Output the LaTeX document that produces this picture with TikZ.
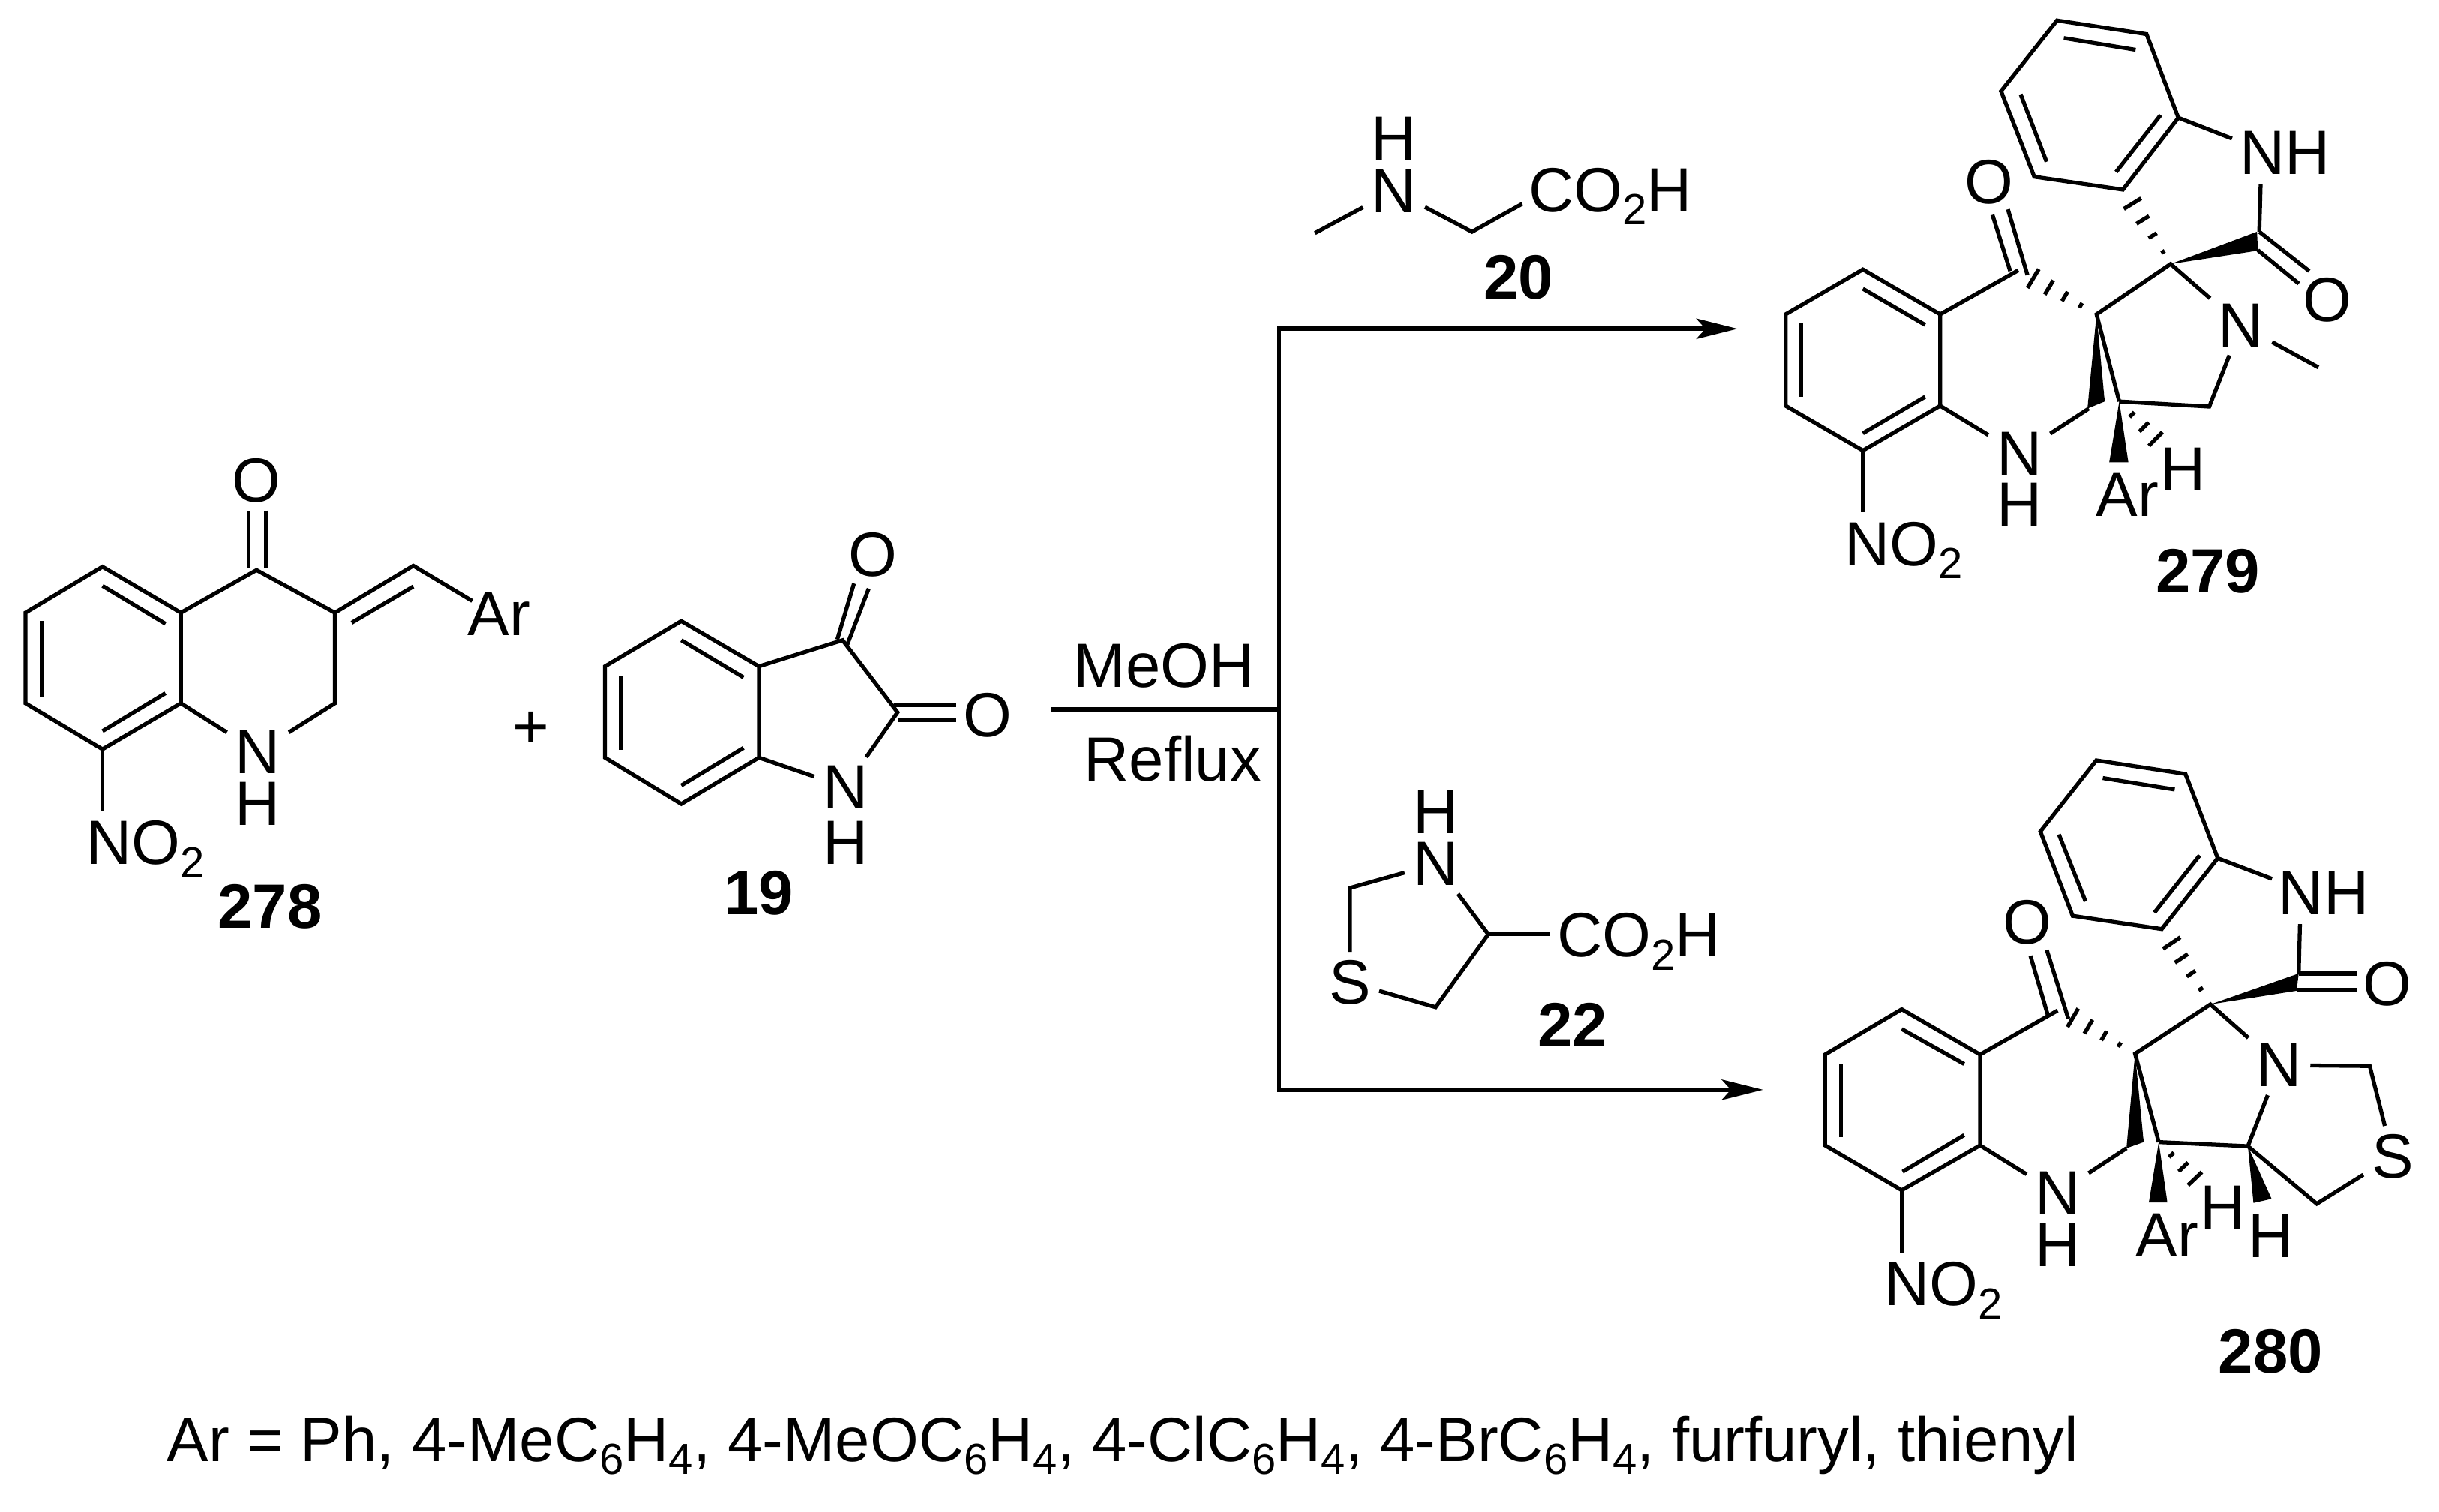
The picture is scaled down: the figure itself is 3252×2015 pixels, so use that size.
\documentclass[tikz,border=0pt]{standalone}
\usepackage{fontspec}
\setmainfont{Liberation Sans}
\usetikzlibrary{calc,arrows.meta}
\newcommand\sbs[1]{\raisebox{-5pt}{\fontsize{16.5}{17}\selectfont #1}}
\newcommand\seg[3]{\coordinate (#1s) at (#2); \coordinate (#1e) at (#3); \draw[bond] (#1s) -- (#1e);}
\newcommand\wdg[3]{\fill[black] (#1) -- (#2) -- (#3) -- cycle;}
\newcommand\hsh[4]{\foreach \t in {#4} {\draw[hashln] ($(#1)!\t!(#2)$) -- ($(#1)!\t!(#3)$);}}
\tikzset{
  bond/.style={line width=1.5pt,line join=miter,line cap=butt},
  hashln/.style={line width=1.5pt},
  rxn/.style={line width=1.7pt},
  head/.style={-{Stealth[length=0.55cm,width=0.27cm,inset=0.12cm]}},
  atom/.style={inner sep=3pt,font=\fontsize{23.7}{27}\selectfont},
  txt/.style={inner sep=0pt,font=\fontsize{23.7}{27}\selectfont},
  cpd/.style={inner sep=0pt,font=\fontsize{23.7}{27}\selectfont\bfseries},
  z1/.style={shift={(2300,0)},x=0.00606cm,y=-0.00523cm,name prefix=P-},
  z2/.style={shift={(2350,980)},x=0.00574cm,y=-0.005485cm,name prefix=Q-},
  z3/.style={shift={(0,580)},x=0.00893cm,y=-0.004464cm,name prefix=L-},
  z4/.style={shift={(1380,120)},x=0.006378cm,y=-0.008673cm,name prefix=M-},
}
\begin{document}
\begin{tikzpicture}[x=0.01cm,y=-0.01cm]
\useasboundingbox (0,0) rectangle (3252,2015);
% ---------- 278 and 19
\begin{scope}[z3]
\coordinate (p1) at (153,393); \coordinate (p2) at (270,530); \coordinate (p3) at (270,800);
\coordinate (p4) at (153,937); \coordinate (p5) at (38,800); \coordinate (p6) at (38,530);
\draw[bond] (p1)--(p2)--(p3)--(p4)--(p5)--(p6)--cycle;
\seg{i1}{153,450}{247,563} \seg{i2}{62,555}{62,780} \seg{i3}{247,770}{153,883}
\coordinate (c4) at (383,403); \coordinate (c3) at (500,530); \coordinate (ch) at (617,390);
\coordinate (c2) at (500,800); \coordinate (arb) at (705,495); \coordinate (nob) at (153,1122);
\node[atom] (O) at (383,135) {O};
\node[atom] (N) at (385,945) {N};
\node[atom] (H) at (385,1100) {H};
\node[txt] (Ar) at (745,535) {Ar};
\node[txt,anchor=base west] (NO) at (128,1280) {NO\sbs{2}};
\node[cpd] (n278) at (403,1405) {278};
\draw[bond] (p2)--(c4)--(c3)--(ch)--(arb);
\draw[bond] (c3)--(c2)--(N)--(p3);
\draw[bond] (p4)--(nob);
\seg{i4}{525,560}{617,452}
\seg{d1}{371,225}{371,397} \seg{d2}{397,225}{397,397}
\node[txt] (plus) at (793,880) {+};
\coordinate (q1) at (1017,555); \coordinate (q2) at (1133,690); \coordinate (q3) at (1133,962);
\coordinate (q4) at (1017,1100); \coordinate (q5) at (903,962); \coordinate (q6) at (903,690);
\draw[bond] (q1)--(q2)--(q3)--(q4)--(q5)--(q6)--cycle;
\seg{j1}{1017,612}{1110,723} \seg{j2}{927,720}{927,940} \seg{j3}{1110,933}{1017,1045}
\coordinate (k3) at (1258,612); \coordinate (k2) at (1340,827);
\node[atom] (Oa) at (1303,358) {O};
\node[atom] (Ob) at (1475,835) {O};
\node[atom] (Nb) at (1262,1050) {N};
\node[atom] (Hb) at (1262,1215) {H};
\node[cpd] (n19) at (1133,1365) {19};
\draw[bond] (q2)--(k3)--(k2)--(Nb)--(q3);
\seg{e1}{1250,610}{1275,443} \seg{e2}{1265,625}{1297,458}
\seg{e3}{1335,805}{1428,805} \seg{e4}{1340,850}{1428,850}
\end{scope}
% ---------- reaction lines and reagents
\begin{scope}[z4]
\coordinate (s) at (33,953); \coordinate (j) at (510,953);
\coordinate (t) at (510,367); \coordinate (b) at (510,1537);
\coordinate (ta) at (1468,367); \coordinate (ba) at (1521,1537);
\draw[rxn] (s)--(j);
\draw[rxn,head] (j)--(t)--(ta);
\draw[rxn,head] (j)--(b)--(ba);
\node[txt] (meoh) at (270,885) {MeOH};
\node[txt] (refl) at (288,1028) {Reflux};
\node[atom] (Ha) at (750,75) {H};
\node[atom] (Na) at (750,155) {N};
\coordinate (me) at (585,220); \coordinate (ca) at (913,218); \coordinate (cb) at (1018,175);
\node[txt,anchor=base west] (coa) at (1031,187) {CO\sbs{2}H};
\node[cpd] (n20) at (1010,288) {20};
\draw[bond] (me)--(Na)--(ca)--(cb);
\node[atom] (Hc) at (837,1110) {H};
\node[atom] (Nc) at (837,1190) {N};
\node[atom] (Sc) at (658,1372) {S};
\coordinate (c5) at (658,1227); \coordinate (c4) at (837,1410); \coordinate (c3) at (947,1298);
\coordinate (cc) at (1075,1298);
\node[txt,anchor=base west] (cob) at (1090,1333) {CO\sbs{2}H};
\node[cpd] (n22) at (1123,1437) {22};
\draw[bond] (Nc)--(c5)--(Sc)--(c4)--(c3)--(Nc);
\draw[bond] (c3)--(cc);
\end{scope}
% ---------- 279
\begin{scope}[z1]
\coordinate (a1) at (303,686); \coordinate (a2) at (473,800); \coordinate (a3) at (473,1033);
\coordinate (a4) at (303,1147); \coordinate (a5) at (133,1033); \coordinate (a6) at (133,800);
\draw[bond] (a1)--(a2)--(a3)--(a4)--(a5)--(a6)--cycle;
\seg{i1}{303,735}{440,827} \seg{i2}{168,822}{168,1010} \seg{i3}{440,1010}{303,1103}
\coordinate (co) at (645,688); \coordinate (c3) at (817,800); \coordinate (c2) at (980,672);
\coordinate (c4) at (867,1022); \coordinate (c5) at (1065,1035); \coordinate (ch) at (800,1040);
\coordinate (c1) at (1175,590); \coordinate (me) at (1305,935); \coordinate (nob) at (303,1305);
\coordinate (nhb) at (1178,468); \coordinate (nhc) at (1115,353);
\node[atom] (O1) at (580,463) {O};
\node[atom] (O2) at (1325,763) {O};
\node[atom] (N1) at (647,1155) {N};
\node[atom] (H1) at (647,1285) {H};
\node[atom] (N2) at (1135,828) {N};
\node[atom] (H2) at (1008,1195) {H};
\node[txt] (Ar) at (885,1260) {Ar};
\node[txt,anchor=base west] (NO) at (262,1440) {NO\sbs{2}};
\node[txt] (NH) at (1232,390) {NH};
\node[cpd] (n279) at (1062,1455) {279};
\draw[bond] (a2)--(co);
\seg{d1}{588,547}{627,690} \seg{d2}{622,533}{665,700}
\draw[bond] (a3)--(N1)--(ch);
\draw[bond] (a4)--(nob);
\draw[bond] (c4)--(c3)--(c2)--(N2)--(c5)--(c4);
\draw[bond] (N2)--(me);
\coordinate (w1) at (797,1040); \coordinate (w2) at (835,1022); \wdg{c3}{w1}{w2}
\coordinate (w3) at (845,1177); \coordinate (w4) at (887,1177); \wdg{c4}{w3}{w4}
\coordinate (w5) at (1170,590); \coordinate (w6) at (1172,638); \wdg{c2}{w5}{w6}
\coordinate (h1) at (690,685); \coordinate (h2) at (665,733); \hsh{c3}{h1}{h2}{0.25,0.5,0.75,1}
\coordinate (h3) at (877,532); \coordinate (h4) at (915,505); \hsh{c2}{h3}{h4}{0.2,0.47,0.73,1}
\coordinate (h5) at (932,1135); \coordinate (h6) at (962,1100); \hsh{c4}{h5}{h6}{0.35,0.68,1}
\draw[bond] (c1)--(nhb);
\seg{d3}{1175,590}{1285,690} \seg{d4}{1172,637}{1262,722}
\coordinate (b1) at (730,52); \coordinate (b2) at (927,87); \coordinate (b3) at (997,300);
\coordinate (b4) at (875,483); \coordinate (b5) at (680,450); \coordinate (b6) at (607,232);
\draw[bond] (b1)--(b2)--(b3)--(b4)--(b5)--(b6)--cycle;
\seg{k1}{745,97}{903,127} \seg{k2}{958,293}{860,438} \seg{k3}{650,240}{707,412}
\draw[bond] (b3)--(nhc);
\end{scope}
% ---------- 280
\begin{scope}[z2]
\coordinate (a1) at (323,667); \coordinate (a2) at (505,777); \coordinate (a3) at (505,998);
\coordinate (a4) at (323,1107); \coordinate (a5) at (145,998); \coordinate (a6) at (145,777);
\draw[bond] (a1)--(a2)--(a3)--(a4)--(a5)--(a6)--cycle;
\seg{i1}{323,715}{468,800} \seg{i2}{182,800}{182,978} \seg{i3}{468,973}{325,1062}
\coordinate (co) at (685,670); \coordinate (c3) at (865,775); \coordinate (c2) at (1040,655);
\coordinate (c4) at (920,990); \coordinate (c5) at (1127,1000); \coordinate (ch) at (845,1005);
\coordinate (c1) at (1245,580); \coordinate (nob) at (323,1258);
\coordinate (nhb) at (1248,460); \coordinate (nhc) at (1183,350);
\coordinate (t1) at (1410,805); \coordinate (t2) at (1287,1140);
\node[atom] (O1) at (615,455) {O};
\node[atom] (O2) at (1450,605) {O};
\node[atom] (N1) at (685,1115) {N};
\node[atom] (H1) at (685,1240) {H};
\node[atom] (N2) at (1200,803) {N};
\node[atom] (S) at (1463,1025) {S};
\node[atom] (H2) at (1068,1150) {H};
\node[atom] (H3) at (1180,1218) {H};
\node[txt] (Ar) at (940,1217) {Ar};
\node[txt,anchor=base west] (NO) at (282,1388) {NO\sbs{2}};
\node[txt] (NH) at (1303,385) {NH};
\node[cpd] (n280) at (1180,1500) {280};
\draw[bond] (a2)--(co);
\seg{d1}{622,537}{662,680} \seg{d2}{660,523}{710,690}
\draw[bond] (a3)--(N1)--(ch);
\draw[bond] (a4)--(nob);
\draw[bond] (c4)--(c3)--(c2)--(N2)--(c5)--(c4);
\draw[bond] (N2)--(t1)--(S)--(t2)--(c5);
\coordinate (w1) at (845,1005); \coordinate (w2) at (885,990); \wdg{c3}{w1}{w2}
\coordinate (w3) at (897,1137); \coordinate (w4) at (940,1137); \wdg{c4}{w3}{w4}
\coordinate (w5) at (1245,580); \coordinate (w6) at (1240,622); \wdg{c2}{w5}{w6}
\coordinate (w7) at (1140,1138); \coordinate (w8) at (1182,1128); \wdg{c5}{w7}{w8}
\coordinate (h1) at (733,665); \coordinate (h2) at (708,710); \hsh{c3}{h1}{h2}{0.25,0.5,0.75,1}
\coordinate (h3) at (930,520); \coordinate (h4) at (970,492); \hsh{c2}{h3}{h4}{0.25,0.5,0.75,1}
\coordinate (h5) at (988,1095); \coordinate (h6) at (1020,1063); \hsh{c4}{h5}{h6}{0.35,0.68,1}
\draw[bond] (c1)--(nhb);
\seg{d3}{1245,580}{1380,580} \seg{d4}{1240,620}{1380,620}
\coordinate (b1) at (775,62); \coordinate (b2) at (982,95); \coordinate (b3) at (1057,300);
\coordinate (b4) at (927,472); \coordinate (b5) at (720,440); \coordinate (b6) at (645,235);
\draw[bond] (b1)--(b2)--(b3)--(b4)--(b5)--(b6)--cycle;
\seg{k1}{790,105}{957,133} \seg{k2}{1015,293}{910,432} \seg{k3}{688,242}{750,405}
\draw[bond] (b3)--(nhc);
\end{scope}
% ---------- footnote
\node[txt,anchor=base west] (note) at (222,1948) {Ar = Ph, 4-MeC\sbs{6}H\sbs{4}, 4-MeOC\sbs{6}H\sbs{4}, 4-ClC\sbs{6}H\sbs{4}, 4-BrC\sbs{6}H\sbs{4}, furfuryl, thienyl};
\end{tikzpicture}
\end{document}
